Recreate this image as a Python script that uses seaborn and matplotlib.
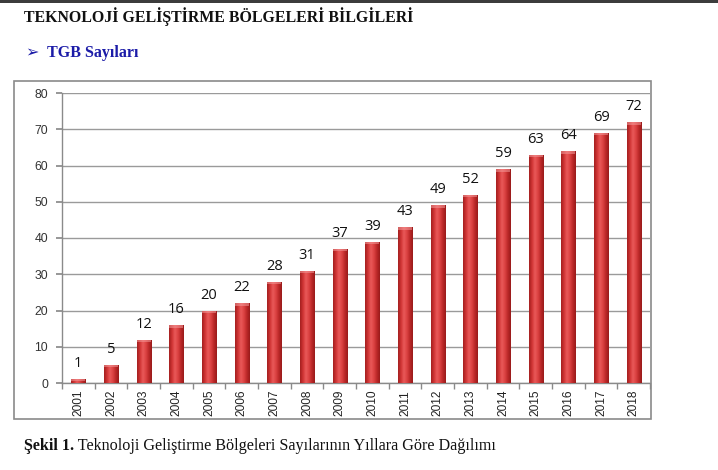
import matplotlib
matplotlib.use("Agg")
import matplotlib.pyplot as plt
import matplotlib.patches as mpatches
import numpy as np
import pandas as pd
import seaborn as sns

years = ["2001", "2002", "2003", "2004", "2005", "2006", "2007", "2008", "2009",
         "2010", "2011", "2012", "2013", "2014", "2015", "2016", "2017", "2018"]
counts = [1, 5, 12, 16, 20, 22, 28, 31, 37, 39, 43, 49, 52, 59, 63, 64, 69, 72]
y_ticks = [0, 10, 20, 30, 40, 50, 60, 70, 80]

title_text = "TEKNOLOJİ GELİŞTİRME BÖLGELERİ BİLGİLERİ"
subtitle_text = "➢  TGB Sayıları"
caption_bold = "Şekil 1."
caption_rest = " Teknoloji Geliştirme Bölgeleri Sayılarının Yıllara Göre Dağılımı"

sns.set_theme(style="white")
plt.rcParams["font.family"] = ["Liberation Sans", "DejaVu Sans"]

W, H = 718, 470
fig = plt.figure(figsize=(W / 100, H / 100), dpi=100)
fig.patch.set_facecolor("white")

# dark band at top
fig.add_artist(mpatches.Rectangle((0, 1 - 3 / H), 1, 3 / H, transform=fig.transFigure,
                                  facecolor="#3c3c3c", edgecolor="none"))

# chart frame
fx0, fx1 = 14 / W, 651 / W
fy0, fy1 = 1 - 419 / H, 1 - 81 / H
fig.add_artist(mpatches.Rectangle((fx0, fy0), fx1 - fx0, fy1 - fy0, transform=fig.transFigure,
                                  facecolor="none", edgecolor="#8a8a8a", linewidth=1.2))

ax = fig.add_axes([62 / W, 1 - 383 / H, (650 - 62) / W, (383 - 93) / H])
df = pd.DataFrame({"year": years, "count": counts})
sns.barplot(data=df, x="year", y="count", color="#d03838", width=0.43, ax=ax,
            saturation=1, edgecolor="none")

ax.set_ylim(0, 80)
ax.set_xlim(-0.5, len(years) - 0.5)
ax.set_yticks(y_ticks)
ax.set_xlabel("")
ax.set_ylabel("")
ax.set_facecolor("none")
ax.yaxis.grid(True, color="#9a9a9a", linewidth=1.0)
ax.set_axisbelow(True)
for s in ["top", "right"]:
    ax.spines[s].set_visible(False)
for s in ["left", "bottom"]:
    ax.spines[s].set_color("#8a8a8a")
    ax.spines[s].set_linewidth(1.0)

ax.tick_params(axis="y", which="both", left=True, length=4, color="#8a8a8a",
               labelsize=8.8, labelcolor="#333333", pad=6)
ax.set_xticks(np.arange(len(years)))
ax.set_xticklabels(years, rotation=90, fontsize=8.6, color="#222222")
ax.tick_params(axis="x", which="major", bottom=False, pad=-1)
ax.set_xticks(np.arange(len(years) + 1) - 0.5, minor=True)
ax.tick_params(axis="x", which="minor", bottom=True, length=4, color="#8a8a8a")

# gradient fill for bars
cmap = matplotlib.colors.LinearSegmentedColormap.from_list(
    "bar", ["#a31f1f", "#d03434", "#ea5a5a", "#dc4242", "#bb2828", "#981a1a"])
grad = np.linspace(0, 1, 64).reshape(1, -1)
for p in ax.patches:
    x0, y0 = p.get_x(), p.get_y()
    w, h = p.get_width(), p.get_height()
    im = ax.imshow(grad, extent=[x0, x0 + w, y0, y0 + h], aspect="auto",
                   cmap=cmap, zorder=3, interpolation="bicubic")
    im.set_clip_path(p)
    # light cap on top
    cap_h = min(0.7, h * 0.5)
    ax.add_patch(mpatches.Rectangle((x0, y0 + h - cap_h), w, cap_h,
                                    facecolor="#f39a9a", edgecolor="none", alpha=0.55, zorder=4))

for i, v in enumerate(counts):
    ax.text(i, v + 2.2, str(v), ha="center", va="bottom", fontsize=10.5,
            color="#111111", family=["Open Sans", "DejaVu Sans"])

fig.text(24 / W, 1 - 17 / H, title_text, ha="left", va="center", fontsize=11.4,
         fontweight="bold", family=["Liberation Serif", "DejaVu Serif"], color="#111111")
fig.text(26 / W, 1 - 53 / H, subtitle_text, ha="left", va="center", fontsize=11.5,
         fontweight="bold", family=["Liberation Serif", "DejaVu Sans"], color="#1c1ca8")

t1 = fig.text(24 / W, 1 - 446 / H, caption_bold, ha="left", va="center", fontsize=11.6,
              fontweight="bold", family=["Liberation Serif"], color="#111111")
fig.canvas.draw()
bb = t1.get_window_extent()
fig.text(bb.x1 / W, 1 - 446 / H, caption_rest, ha="left", va="center", fontsize=11.6,
         family=["Liberation Serif"], color="#111111")

fig.savefig("out.png", dpi=100)
